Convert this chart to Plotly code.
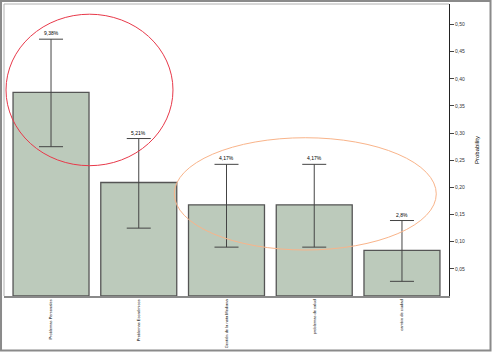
import plotly.graph_objects as go

categories = ["Problemas Personales", "Problemas Económicos", "Gestión de la nota Mediana",
              "problemas de salud", "cambio de ciudad"]
values = [0.375, 0.209, 0.168, 0.168, 0.084]
err_upper = [0.473, 0.290, 0.2425, 0.2425, 0.139]
err_lower = [0.275, 0.125, 0.090, 0.090, 0.027]
labels = ["9,38%", "5,21%", "4,17%", "4,17%", "2,8%"]
tick_vals = [0.05, 0.10, 0.15, 0.20, 0.25, 0.30, 0.35, 0.40, 0.45, 0.50]

x_idx = list(range(len(categories)))
fig = go.Figure()
fig.add_trace(go.Bar(
    x=x_idx, y=values,
    marker=dict(color="#bccabb", line=dict(color="#555555", width=1.3)),
    error_y=dict(type="data", symmetric=False,
                 array=[u - v for u, v in zip(err_upper, values)],
                 arrayminus=[v - l for v, l in zip(values, err_lower)],
                 color="#444444", thickness=1, width=12),
    width=0.866, showlegend=False,
))

for i, (u, t) in enumerate(zip(err_upper, labels)):
    fig.add_annotation(x=i, y=u, text=t, showarrow=False, yshift=6,
                       font=dict(size=5, color="#000000"))

# decorative ellipses (data coords)
fig.add_shape(type="circle", xref="x", yref="y", x0=-0.513, x1=1.390, y0=0.240, y1=0.519,
              line=dict(color="#e8394a", width=1), layer="above")
fig.add_shape(type="circle", xref="x", yref="y", x0=1.405, x1=4.391, y0=0.0847, y1=0.2915,
              line=dict(color="#f9b48a", width=1), layer="above")

# frames
fig.add_shape(type="rect", xref="paper", yref="paper", x0=-0.0067, x1=1.0933, y0=-0.1866, y1=1.0103,
              line=dict(color="#8a8a8a", width=2))
fig.add_shape(type="line", xref="paper", yref="paper", x0=0, x1=0, y0=0, y1=1,
              line=dict(color="#b0b0b0", width=1))
fig.add_shape(type="line", xref="paper", yref="paper", x0=0, x1=1, y0=1, y1=1,
              line=dict(color="#b0b0b0", width=1))

fig.update_layout(
    width=492, height=352,
    margin=dict(l=4, r=43, t=4, b=56),
    paper_bgcolor="white", plot_bgcolor="white",
    separators=", ",
    font=dict(family="Liberation Sans, Arial, sans-serif", size=5, color="#000"),
    xaxis=dict(range=[-0.536, 4.536], tickmode="array", tickvals=x_idx, ticktext=categories,
               tickangle=-90, showgrid=False, zeroline=False, showline=True, automargin=False,
               linecolor="#8a8a8a", linewidth=1.5, ticks="", tickfont=dict(size=4)),
    yaxis=dict(range=[0, 0.5378], side="right", tickvals=tick_vals, tickformat=".2f",
               showgrid=False, zeroline=False, showline=True, linecolor="#222", linewidth=1,
               automargin=False,
               ticks="outside", ticklen=4, tickcolor="#444", tickfont=dict(size=5, color="#333"),
               title=dict(text="Probability", font=dict(size=6), standoff=10)),
)

fig.write_html("out.html")
